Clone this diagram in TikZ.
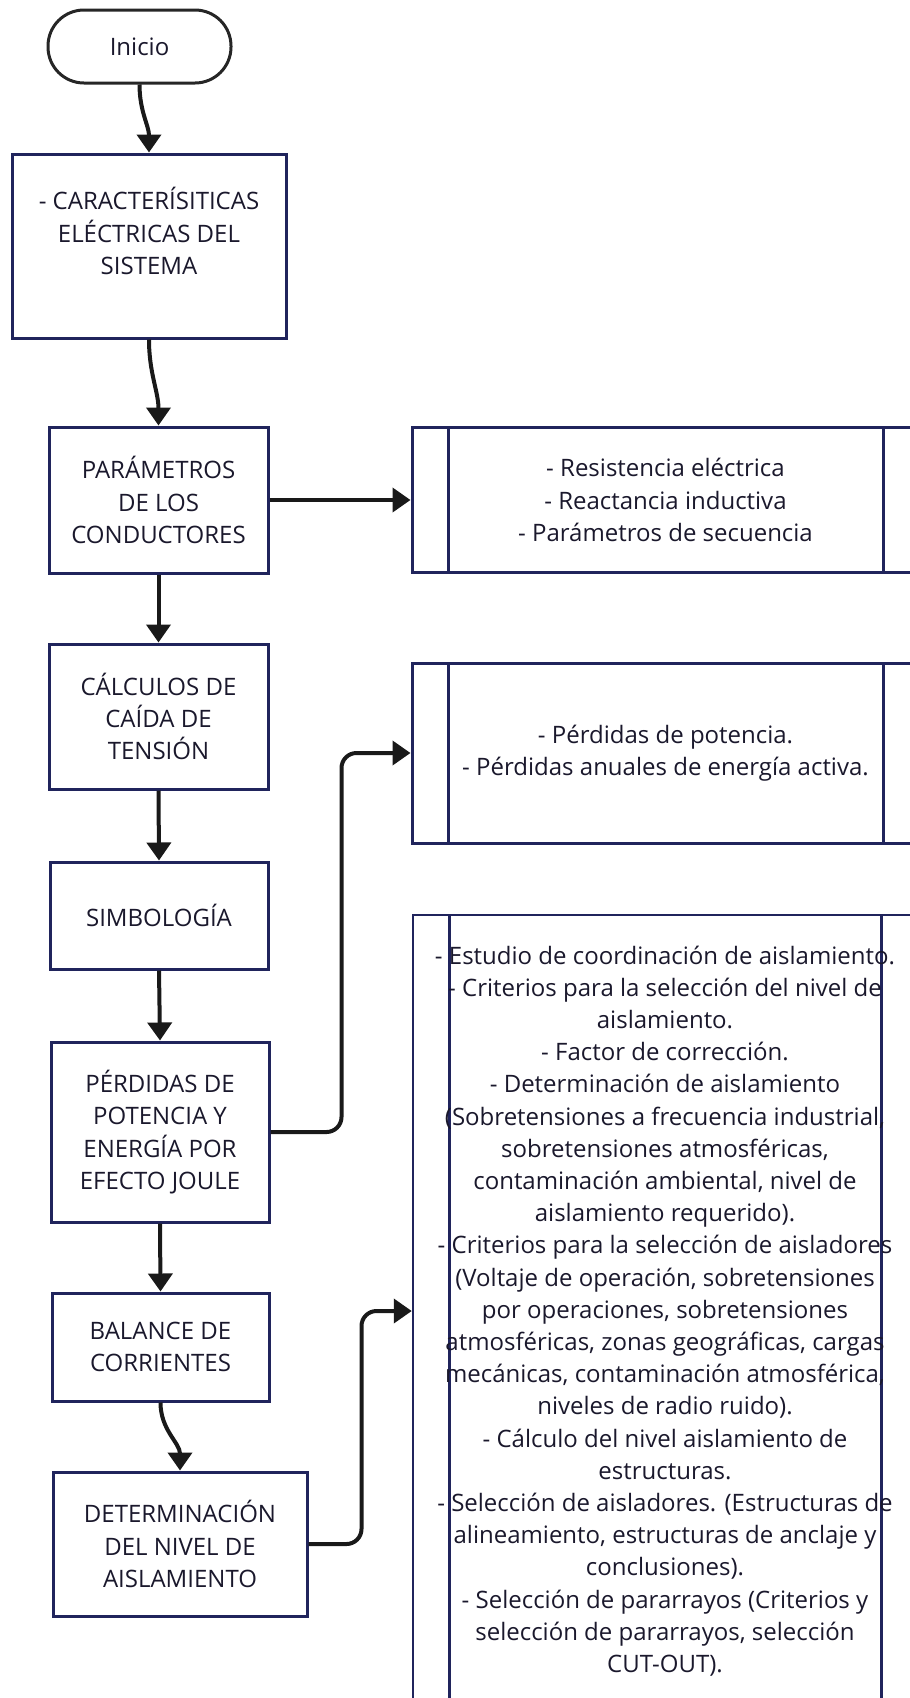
\documentclass[tikz,border=0pt]{standalone}
\usepackage{fontspec}
\setmainfont{Open Sans}
\usetikzlibrary{arrows.meta}
\definecolor{boxcol}{RGB}{32,36,92}
\definecolor{txtcol}{RGB}{26,24,44}

\begin{document}
\begin{tikzpicture}[x=1pt,y=-1pt,
  caja/.style={draw=boxcol,line width=3pt,inner sep=0pt,align=center,text=txtcol,font=\fontsize{24}{32.2}\selectfont},
  proc/.style={caja,path picture={\draw[boxcol,line width=3pt]
      ([xshift=36pt]path picture bounding box.north west)--([xshift=36pt]path picture bounding box.south west)
      ([xshift=-36pt]path picture bounding box.north east)--([xshift=-36pt]path picture bounding box.south east);}},
  flecha/.style={draw=black!90,line width=4pt,-{Triangle[width=24pt,length=18pt]}}]
\clip(0,0)rectangle(910,1698);
\node[caja,draw=black!85,rounded corners=36pt,minimum width=183pt,minimum height=73pt](ini)at(139.5,46.5){Inicio};
\node[caja,minimum width=274pt,minimum height=184pt](car)at(149,246){};
\node[align=center,text=txtcol,font=\fontsize{24}{32.2}\selectfont](cartxt)at(149,231){- CARACTERÍSITICAS\\ELÉCTRICAS DEL\\SISTEMA};
\node[caja,minimum width=219pt,minimum height=146pt](par)at(158.5,500){PARÁMETROS\\DE LOS\\CONDUCTORES};
\node[caja,minimum width=219pt,minimum height=145pt](cal)at(158.5,716.5){CÁLCULOS DE\\CAÍDA DE\\TENSIÓN};
\node[caja,minimum width=218pt,minimum height=107pt](sim)at(159,915.5){SIMBOLOGÍA};
\node[caja,minimum width=218pt,minimum height=180pt](per)at(160,1132){PÉRDIDAS DE\\POTENCIA Y\\ENERGÍA POR\\EFECTO JOULE};
\node[caja,minimum width=217pt,minimum height=108pt](bal)at(160.5,1347){BALANCE DE\\CORRIENTES};
\node[caja,minimum width=254pt,minimum height=144pt](det)at(180,1544){DETERMINACIÓN\\DEL NIVEL DE\\AISLAMIENTO};
\node[proc,minimum width=507pt,minimum height=145pt](res)at(665.5,500){- Resistencia eléctrica\\- Reactancia inductiva\\- Parámetros de secuencia};
\node[proc,minimum width=507pt,minimum height=180pt](pot)at(665.5,753){- Pérdidas de potencia.\\- Pérdidas anuales de energía activa.};
\node[proc,line width=2.5pt,minimum width=504pt,minimum height=792pt](ais)at(665,1311){- Estudio de coordinación de aislamiento.\\- Criterios para la selección del nivel de\\aislamiento.\\- Factor de corrección.\\- Determinación de aislamiento\\(Sobretensiones a frecuencia industrial,\\sobretensiones atmosféricas,\\contaminación ambiental, nivel de\\aislamiento requerido).\\- Criterios para la selección de aisladores\\(Voltaje de operación, sobretensiones\\por operaciones, sobretensiones\\atmosféricas, zonas geográficas, cargas\\mecánicas, contaminación atmosférica,\\niveles de radio ruido).\\- Cálculo del nivel aislamiento de\\estructuras.\\- Selección de aisladores. (Estructuras de\\alineamiento, estructuras de anclaje y\\conclusiones).\\- Selección de pararrayos (Criterios y\\selección de pararrayos, selección\\CUT-OUT).};
\draw[flecha](ini.south)to[out=-90,in=90](car.north);
\draw[flecha](car.south)to[out=-90,in=90](par.north);
\draw[flecha](par.south)--(cal.north);
\draw[flecha](cal.south)--(sim.north);
\draw[flecha](sim.south)--(per.north);
\draw[flecha](per.south)--(bal.north);
\draw[flecha](bal.south)to[out=-90,in=90](det.north);
\draw[flecha](par.east)--(res.west);
\draw[flecha,rounded corners=15pt](per.east)--++(71,0)|-(pot.west);
\draw[flecha,rounded corners=15pt](det.east)--++(53,0)|-(ais.west);
\end{tikzpicture}
\end{document}
